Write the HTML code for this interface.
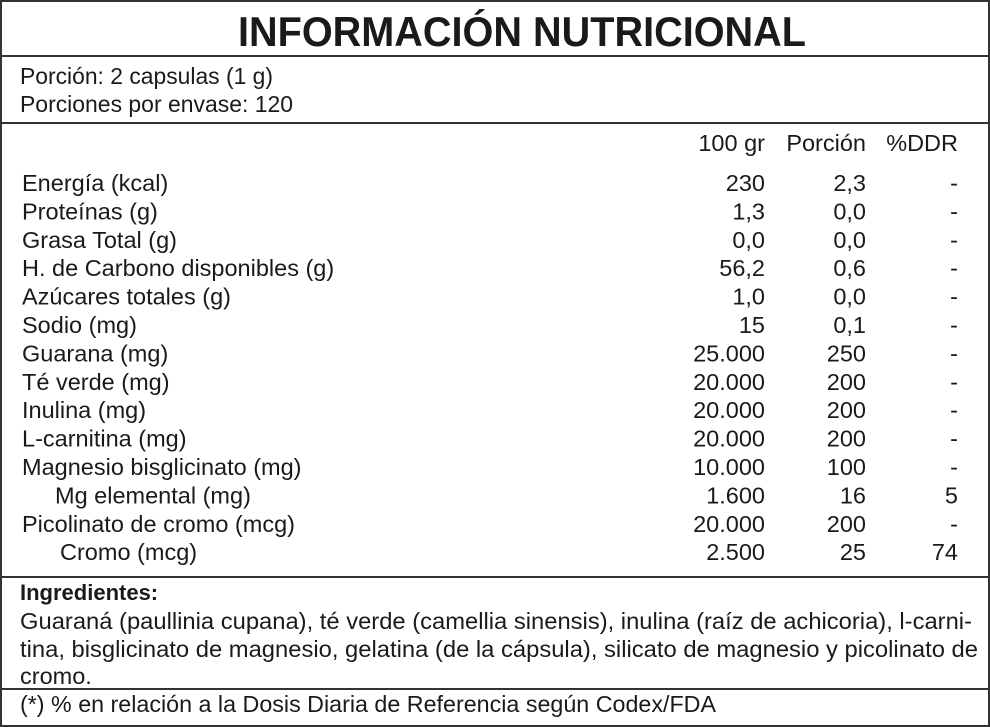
<!DOCTYPE html>
<html><head><meta charset="utf-8"><style>
html,body{margin:0;padding:0;background:#fff;}
svg{display:block;}
text{font-family:"Liberation Sans",sans-serif;fill:#1a1a1a;font-size:23.5px;}
.r{text-anchor:end;}
</style></head><body>
<svg width="990" height="727" viewBox="0 0 990 727" xmlns="http://www.w3.org/2000/svg">
<rect x="1" y="1" width="988" height="725" fill="#fff" stroke="#333" stroke-width="2"/>
<line x1="0" y1="56" x2="990" y2="56" stroke="#333" stroke-width="2"/>
<line x1="0" y1="123" x2="990" y2="123" stroke="#333" stroke-width="2"/>
<line x1="0" y1="577" x2="990" y2="577" stroke="#333" stroke-width="2"/>
<line x1="0" y1="689" x2="990" y2="689" stroke="#333" stroke-width="2"/>
<text x="238" y="46" style="font-size:42px;font-weight:bold" textLength="568" lengthAdjust="spacingAndGlyphs">INFORMACIÓN NUTRICIONAL</text>
<text x="20" y="84" textLength="253" lengthAdjust="spacingAndGlyphs">Porción: 2 capsulas (1 g)</text>
<text x="20" y="112" textLength="273" lengthAdjust="spacingAndGlyphs">Porciones por envase: 120</text>
<text x="765" y="151" class="r">100 gr</text>
<text x="866" y="151" class="r">Porción</text>
<text x="958" y="151" class="r">%DDR</text>
<g>
<text x="22" y="191">Energía (kcal)</text><text x="765" y="191" class="r">230</text><text x="866" y="191" class="r">2,3</text><text x="958" y="191" class="r">-</text>
<text x="22" y="219.4">Proteínas (g)</text><text x="765" y="219.4" class="r">1,3</text><text x="866" y="219.4" class="r">0,0</text><text x="958" y="219.4" class="r">-</text>
<text x="22" y="247.8">Grasa Total (g)</text><text x="765" y="247.8" class="r">0,0</text><text x="866" y="247.8" class="r">0,0</text><text x="958" y="247.8" class="r">-</text>
<text x="22" y="276.2">H. de Carbono disponibles (g)</text><text x="765" y="276.2" class="r">56,2</text><text x="866" y="276.2" class="r">0,6</text><text x="958" y="276.2" class="r">-</text>
<text x="22" y="304.6">Azúcares totales (g)</text><text x="765" y="304.6" class="r">1,0</text><text x="866" y="304.6" class="r">0,0</text><text x="958" y="304.6" class="r">-</text>
<text x="22" y="333">Sodio (mg)</text><text x="765" y="333" class="r">15</text><text x="866" y="333" class="r">0,1</text><text x="958" y="333" class="r">-</text>
<text x="22" y="361.4">Guarana (mg)</text><text x="765" y="361.4" class="r">25.000</text><text x="866" y="361.4" class="r">250</text><text x="958" y="361.4" class="r">-</text>
<text x="22" y="389.8">Té verde (mg)</text><text x="765" y="389.8" class="r">20.000</text><text x="866" y="389.8" class="r">200</text><text x="958" y="389.8" class="r">-</text>
<text x="22" y="418.2">Inulina (mg)</text><text x="765" y="418.2" class="r">20.000</text><text x="866" y="418.2" class="r">200</text><text x="958" y="418.2" class="r">-</text>
<text x="22" y="446.6">L-carnitina (mg)</text><text x="765" y="446.6" class="r">20.000</text><text x="866" y="446.6" class="r">200</text><text x="958" y="446.6" class="r">-</text>
<text x="22" y="475">Magnesio bisglicinato (mg)</text><text x="765" y="475" class="r">10.000</text><text x="866" y="475" class="r">100</text><text x="958" y="475" class="r">-</text>
<text x="55" y="503.4">Mg elemental (mg)</text><text x="765" y="503.4" class="r">1.600</text><text x="866" y="503.4" class="r">16</text><text x="958" y="503.4" class="r">5</text>
<text x="22" y="531.8">Picolinato de cromo (mcg)</text><text x="765" y="531.8" class="r">20.000</text><text x="866" y="531.8" class="r">200</text><text x="958" y="531.8" class="r">-</text>
<text x="60" y="560.2">Cromo (mcg)</text><text x="765" y="560.2" class="r">2.500</text><text x="866" y="560.2" class="r">25</text><text x="958" y="560.2" class="r">74</text>
</g>
<text x="20" y="600" style="font-weight:bold;font-size:22px">Ingredientes:</text>
<text x="20" y="629" textLength="952" lengthAdjust="spacingAndGlyphs">Guaraná (paullinia cupana), té verde (camellia sinensis), inulina (raíz de achicoria), l-carni-</text>
<text x="20" y="657" textLength="958" lengthAdjust="spacingAndGlyphs">tina, bisglicinato de magnesio, gelatina (de la cápsula), silicato de magnesio y picolinato de</text>
<text x="20" y="684">cromo.</text>
<text x="20" y="712" textLength="696" lengthAdjust="spacingAndGlyphs">(*) % en relación a la Dosis Diaria de Referencia según Codex/FDA</text>
</svg>
</body></html>
